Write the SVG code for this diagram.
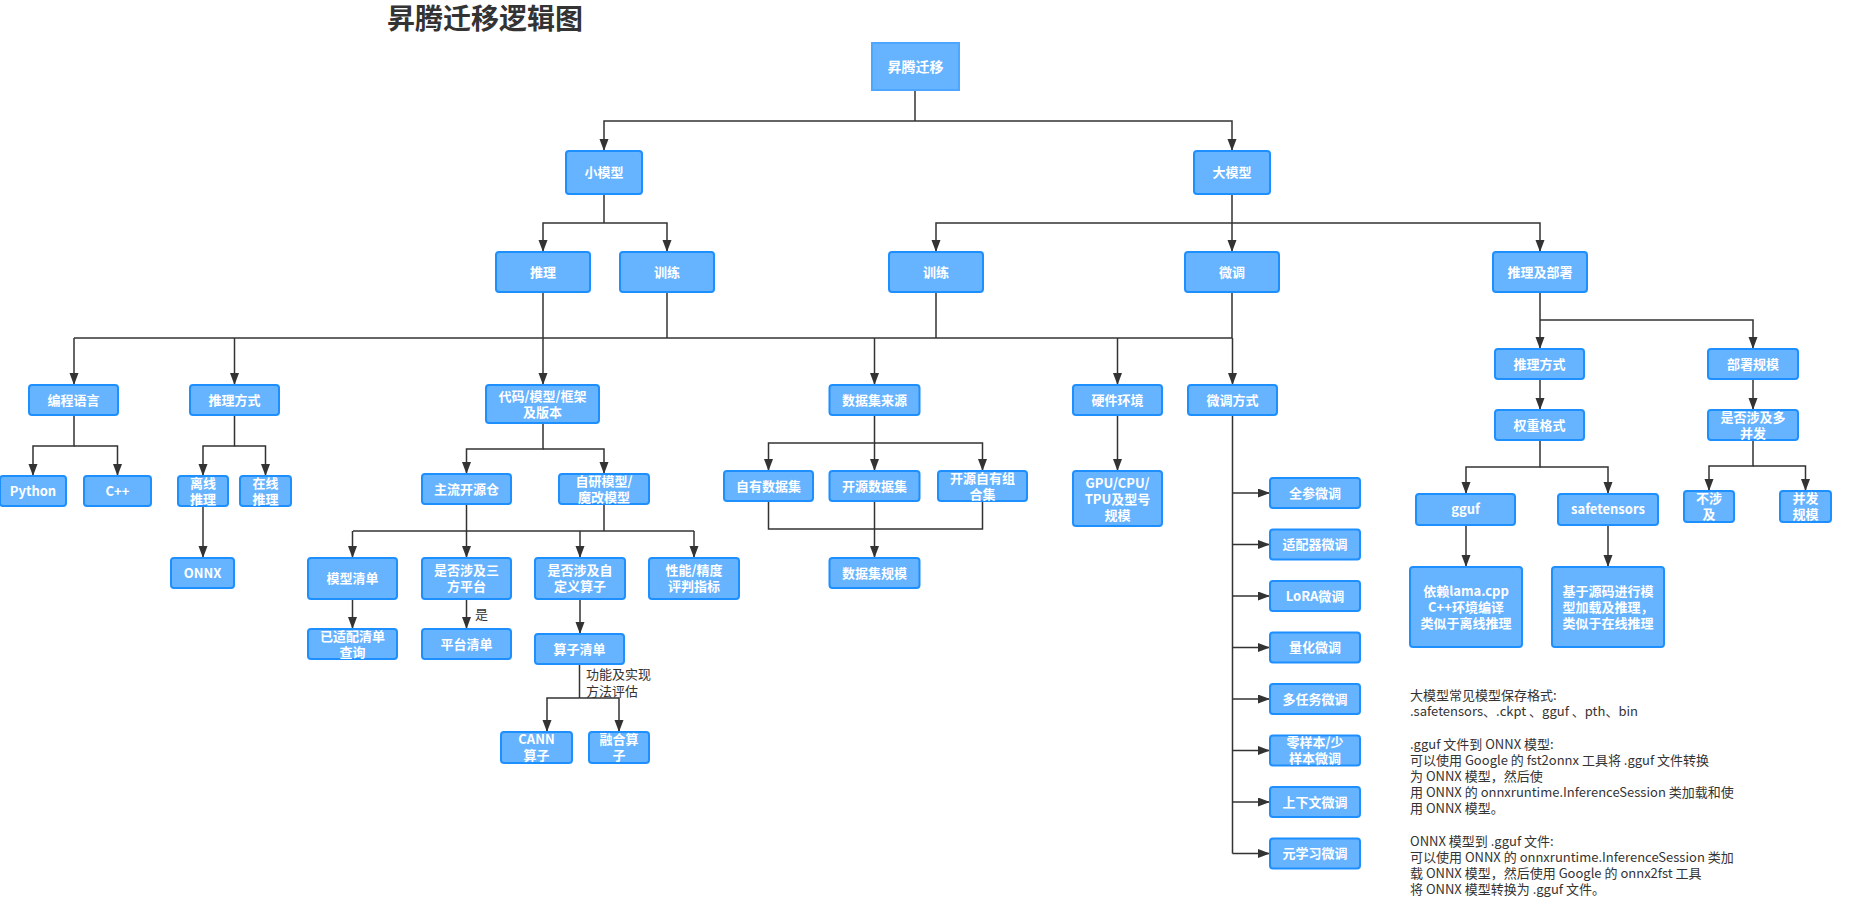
<svg xmlns="http://www.w3.org/2000/svg" width="1850" height="919" viewBox="0 0 1850 919">
<defs>
<marker id="ah" markerUnits="userSpaceOnUse" markerWidth="12" markerHeight="10" refX="12" refY="4.5" orient="auto">
<path d="M0,0 L12,4.5 L0,9 z" fill="#333"/>
</marker>
<style>
.n rect{fill:#66b3ff;stroke:#1e8fff;stroke-width:2}
.n text{fill:#fff;font-family:"Noto Sans CJK SC","Noto Sans",sans-serif;font-weight:700;font-size:13px;text-anchor:middle}
.root rect{stroke:#4da6ff}
.c path{fill:none;stroke:#333;stroke-width:1.5}
.c path.a{marker-end:url(#ah)}
.lbl{fill:#333;font-family:"Noto Sans CJK SC","Noto Sans",sans-serif;font-size:13px}
.title{fill:#333;font-family:"Noto Sans CJK SC",sans-serif;font-weight:700;font-size:28px;text-anchor:middle}
</style>
</defs>
<rect width="1850" height="919" fill="#fff"/>
<text class="title" x="485" y="29">昇腾迁移逻辑图</text>

<g class="c" id="connectors">
<path d="M915,90 V121"/>
<path class="a" d="M915,121 H604 V151"/>
<path class="a" d="M915,121 H1232 V151"/>
<path d="M604,194 V223"/>
<path class="a" d="M604,223 H543 V252"/>
<path class="a" d="M604,223 H667 V252"/>
<path class="a" d="M1232,194 V252"/>
<path class="a" d="M1232,223 H936 V252"/>
<path class="a" d="M1232,223 H1540 V252"/>
<path d="M667,292 V338"/>
<path d="M936,292 V338"/>
<path d="M1232,292 V338"/>
<path d="M74,338 H1232"/>
<path class="a" d="M74,338 V385"/>
<path class="a" d="M234.5,338 V385"/>
<path class="a" d="M543,292 V385"/>
<path class="a" d="M874.5,338 V385"/>
<path class="a" d="M1117.5,338 V385"/>
<path class="a" d="M1232.5,338 V385"/>
<path class="a" d="M1540,292 V349"/>
<path class="a" d="M1540,320 H1753 V349"/>
<path class="a" d="M1540,379 V410"/>
<path class="a" d="M1753,379 V410"/>
<path class="a" d="M1540,440 V467 H1466 V494"/>
<path class="a" d="M1540,467 H1608 V494"/>
<path class="a" d="M1466,525 V567"/>
<path class="a" d="M1608,525 V567"/>
<path class="a" d="M1753,440 V466 H1709 V491"/>
<path class="a" d="M1753,466 H1805.5 V491"/>
<path class="a" d="M74,415 V446 H33 V476"/>
<path class="a" d="M74,446 H117.5 V476"/>
<path class="a" d="M234.5,415 V446 H203 V476"/>
<path class="a" d="M234.5,446 H265.5 V476"/>
<path class="a" d="M203,506 V558"/>
<path class="a" d="M543,423 V449 H466.5 V474"/>
<path class="a" d="M543,449 H604 V474"/>
<path d="M466.5,504 V531"/>
<path d="M604,504 V531"/>
<path d="M353,531 H694"/>
<path class="a" d="M352.5,531 V558"/>
<path class="a" d="M466.5,531 V558"/>
<path class="a" d="M580,531 V558"/>
<path class="a" d="M694,531 V558"/>
<path class="a" d="M352.5,599 V629"/>
<path class="a" d="M466.5,599 V629"/>
<path class="a" d="M580,599 V634"/>
<path d="M579.5,664 V698"/>
<path class="a" d="M579.5,698 H547 V732"/>
<path class="a" d="M579.5,698 H619 V732"/>
<path class="a" d="M874.5,415 V443 H768.5 V471"/>
<path class="a" d="M874.5,443 H982.5 V471"/>
<path class="a" d="M874.5,443 V471"/>
<path d="M768.5,501 V529 H982.5 V501"/>
<path class="a" d="M874.5,501 V558"/>
<path class="a" d="M1117.5,415 V471"/>
<path d="M1232.5,415 V853.5"/>
<path class="a" d="M1232.5,493 H1270"/>
<path class="a" d="M1232.5,544.5 H1270"/>
<path class="a" d="M1232.5,596 H1270"/>
<path class="a" d="M1232.5,647.5 H1270"/>
<path class="a" d="M1232.5,699 H1270"/>
<path class="a" d="M1232.5,750.5 H1270"/>
<path class="a" d="M1232.5,802 H1270"/>
<path class="a" d="M1232.5,853.5 H1270"/>
</g>
<text class="lbl" x="475" y="619">是</text>
<text class="lbl" x="586" y="679">功能及实现</text>
<text class="lbl" x="586" y="696">方法评估</text>

<g class="n root" id="n-root"><rect x="872" y="43" width="87" height="47"/><text x="915.5" y="71.5" style="font-size:14px">昇腾迁移</text></g>
<g class="n" id="n-small"><rect x="566" y="151" width="76" height="43" rx="3"/><text x="604" y="177">小模型</text></g>
<g class="n" id="n-large"><rect x="1194" y="151" width="76" height="43" rx="3"/><text x="1232" y="177">大模型</text></g>
<g class="n" id="n-s-infer"><rect x="496" y="252" width="94" height="40" rx="3"/><text x="543" y="276.5">推理</text></g>
<g class="n" id="n-s-train"><rect x="620" y="252" width="94" height="40" rx="3"/><text x="667" y="276.5">训练</text></g>
<g class="n" id="n-l-train"><rect x="889" y="252" width="94" height="40" rx="3"/><text x="936" y="276.5">训练</text></g>
<g class="n" id="n-l-ft"><rect x="1185" y="252" width="94" height="40" rx="3"/><text x="1232" y="276.5">微调</text></g>
<g class="n" id="n-l-deploy"><rect x="1493" y="252" width="94" height="40" rx="3"/><text x="1540" y="276.5">推理及部署</text></g>

<g class="n" id="n-lang"><rect x="29" y="385" width="89" height="30" rx="3"/><text x="73.5" y="404.5">编程语言</text></g>
<g class="n" id="n-infmode"><rect x="190" y="385" width="89" height="30" rx="3"/><text x="234.5" y="404.5">推理方式</text></g>
<g class="n" id="n-code"><rect x="486" y="385" width="113" height="38" rx="3"/><text x="542.5" y="400.5">代码/模型/框架</text><text x="542.5" y="416.5">及版本</text></g>
<g class="n" id="n-datasrc"><rect x="829.5" y="385" width="90" height="30" rx="3"/><text x="874.5" y="404.5">数据集来源</text></g>
<g class="n" id="n-hw"><rect x="1073" y="385" width="89" height="30" rx="3"/><text x="1117.5" y="404.5">硬件环境</text></g>
<g class="n" id="n-ftmode"><rect x="1188" y="385" width="89" height="30" rx="3"/><text x="1232.5" y="404.5">微调方式</text></g>

<g class="n" id="n-python"><rect x="0" y="476" width="66" height="30" rx="3"/><text x="33" y="495.5">Python</text></g>
<g class="n" id="n-cpp"><rect x="84" y="476" width="67" height="30" rx="3"/><text x="117.5" y="495.5">C++</text></g>
<g class="n" id="n-offline"><rect x="178" y="476" width="50" height="30" rx="3"/><text x="203" y="487.5">离线</text><text x="203" y="503.5">推理</text></g>
<g class="n" id="n-online"><rect x="240" y="476" width="51" height="30" rx="3"/><text x="265.5" y="487.5">在线</text><text x="265.5" y="503.5">推理</text></g>
<g class="n" id="n-onnx"><rect x="171" y="558" width="63" height="30" rx="3"/><text x="202.5" y="577.5">ONNX</text></g>

<g class="n" id="n-mainrepo"><rect x="422" y="474" width="89" height="30" rx="3"/><text x="466.5" y="493.5">主流开源仓</text></g>
<g class="n" id="n-selfmodel"><rect x="559" y="474" width="90" height="30" rx="3"/><text x="604" y="485.5">自研模型/</text><text x="604" y="501.5">魔改模型</text></g>
<g class="n" id="n-modellist"><rect x="308" y="558" width="89" height="41" rx="3"/><text x="352.5" y="583">模型清单</text></g>
<g class="n" id="n-3rd"><rect x="422" y="558" width="89" height="41" rx="3"/><text x="466.5" y="575">是否涉及三</text><text x="466.5" y="591">方平台</text></g>
<g class="n" id="n-customop"><rect x="535" y="558" width="90" height="41" rx="3"/><text x="580" y="575">是否涉及自</text><text x="580" y="591">定义算子</text></g>
<g class="n" id="n-perf"><rect x="649" y="558" width="90" height="41" rx="3"/><text x="694" y="575">性能/精度</text><text x="694" y="591">评判指标</text></g>
<g class="n" id="n-adapted"><rect x="308" y="629" width="89" height="30" rx="3"/><text x="352.5" y="640.5">已适配清单</text><text x="352.5" y="656.5">查询</text></g>
<g class="n" id="n-platlist"><rect x="422" y="629" width="89" height="30" rx="3"/><text x="466.5" y="648.5">平台清单</text></g>
<g class="n" id="n-oplist"><rect x="535" y="634" width="89" height="30" rx="3"/><text x="579.5" y="653.5">算子清单</text></g>
<g class="n" id="n-cann"><rect x="501" y="732" width="71" height="31" rx="3"/><text x="536.5" y="744">CANN</text><text x="536.5" y="760">算子</text></g>
<g class="n" id="n-fused"><rect x="589" y="732" width="60" height="31" rx="3"/><text x="619" y="744">融合算</text><text x="619" y="760">子</text></g>

<g class="n" id="n-owndata"><rect x="724" y="471" width="89" height="30" rx="3"/><text x="768.5" y="490.5">自有数据集</text></g>
<g class="n" id="n-opendata"><rect x="829.5" y="471" width="90" height="30" rx="3"/><text x="874.5" y="490.5">开源数据集</text></g>
<g class="n" id="n-mixdata"><rect x="938" y="471" width="89" height="30" rx="3"/><text x="982.5" y="482.5">开源自有组</text><text x="982.5" y="498.5">合集</text></g>
<g class="n" id="n-datascale"><rect x="829.5" y="558" width="90" height="30" rx="3"/><text x="874.5" y="577.5">数据集规模</text></g>
<g class="n" id="n-gpu"><rect x="1073" y="471" width="89" height="55" rx="3"/><text x="1117.5" y="487.5">GPU/CPU/</text><text x="1117.5" y="503.5">TPU及型号</text><text x="1117.5" y="519.5">规模</text></g>

<g class="n" id="n-ft1"><rect x="1270" y="478" width="90" height="30" rx="3"/><text x="1315" y="497.5">全参微调</text></g>
<g class="n" id="n-ft2"><rect x="1270" y="529.5" width="90" height="30" rx="3"/><text x="1315" y="549">适配器微调</text></g>
<g class="n" id="n-ft3"><rect x="1270" y="581" width="90" height="30" rx="3"/><text x="1315" y="600.5">LoRA微调</text></g>
<g class="n" id="n-ft4"><rect x="1270" y="632.5" width="90" height="30" rx="3"/><text x="1315" y="652">量化微调</text></g>
<g class="n" id="n-ft5"><rect x="1270" y="684" width="90" height="30" rx="3"/><text x="1315" y="703.5">多任务微调</text></g>
<g class="n" id="n-ft6"><rect x="1270" y="735.5" width="90" height="30" rx="3"/><text x="1315" y="747">零样本/少</text><text x="1315" y="763">样本微调</text></g>
<g class="n" id="n-ft7"><rect x="1270" y="787" width="90" height="30" rx="3"/><text x="1315" y="806.5">上下文微调</text></g>
<g class="n" id="n-ft8"><rect x="1270" y="838.5" width="90" height="30" rx="3"/><text x="1315" y="858">元学习微调</text></g>

<g class="n" id="n-l-infmode"><rect x="1495" y="349" width="89" height="30" rx="3"/><text x="1539.5" y="368.5">推理方式</text></g>
<g class="n" id="n-deployscale"><rect x="1708" y="349" width="90" height="30" rx="3"/><text x="1753" y="368.5">部署规模</text></g>
<g class="n" id="n-weightfmt"><rect x="1495" y="410" width="89" height="30" rx="3"/><text x="1539.5" y="429.5">权重格式</text></g>
<g class="n" id="n-concur"><rect x="1708" y="410" width="90" height="30" rx="3"/><text x="1753" y="421.5">是否涉及多</text><text x="1753" y="437.5">并发</text></g>
<g class="n" id="n-gguf"><rect x="1416" y="494" width="99" height="31" rx="3"/><text x="1465.5" y="514">gguf</text></g>
<g class="n" id="n-safet"><rect x="1558" y="494" width="100" height="31" rx="3"/><text x="1608" y="514">safetensors</text></g>
<g class="n" id="n-llama"><rect x="1410" y="567" width="112" height="80" rx="3"/><text x="1466" y="596">依赖lama.cpp</text><text x="1466" y="612">C++环境编译</text><text x="1466" y="628">类似于离线推理</text></g>
<g class="n" id="n-src"><rect x="1552" y="567" width="112" height="80" rx="3"/><text x="1608" y="596">基于源码进行模</text><text x="1608" y="612">型加载及推理，</text><text x="1608" y="628">类似于在线推理</text></g>
<g class="n" id="n-noconcur"><rect x="1684" y="491" width="50" height="31" rx="3"/><text x="1709" y="503">不涉</text><text x="1709" y="519">及</text></g>
<g class="n" id="n-concurscale"><rect x="1780" y="491" width="51" height="31" rx="3"/><text x="1805.5" y="503">并发</text><text x="1805.5" y="519">规模</text></g>

<g id="notes" class="lbl">
<text x="1410" y="700">大模型常见模型保存格式:</text>
<text x="1410" y="716.2">.safetensors、.ckpt 、gguf 、pth、bin</text>
<text x="1410" y="748.6">.gguf 文件到 ONNX 模型:</text>
<text x="1410" y="764.8">可以使用 Google 的 fst2onnx 工具将 .gguf 文件转换</text>
<text x="1410" y="781">为 ONNX 模型，然后使</text>
<text x="1410" y="797.2">用 ONNX 的 onnxruntime.InferenceSession 类加载和使</text>
<text x="1410" y="813.4">用 ONNX 模型。</text>
<text x="1410" y="845.8">ONNX 模型到 .gguf 文件:</text>
<text x="1410" y="862">可以使用 ONNX 的 onnxruntime.InferenceSession 类加</text>
<text x="1410" y="878.2">载 ONNX 模型，然后使用 Google 的 onnx2fst 工具</text>
<text x="1410" y="894.4">将 ONNX 模型转换为 .gguf 文件。</text>
</g>
</svg>
